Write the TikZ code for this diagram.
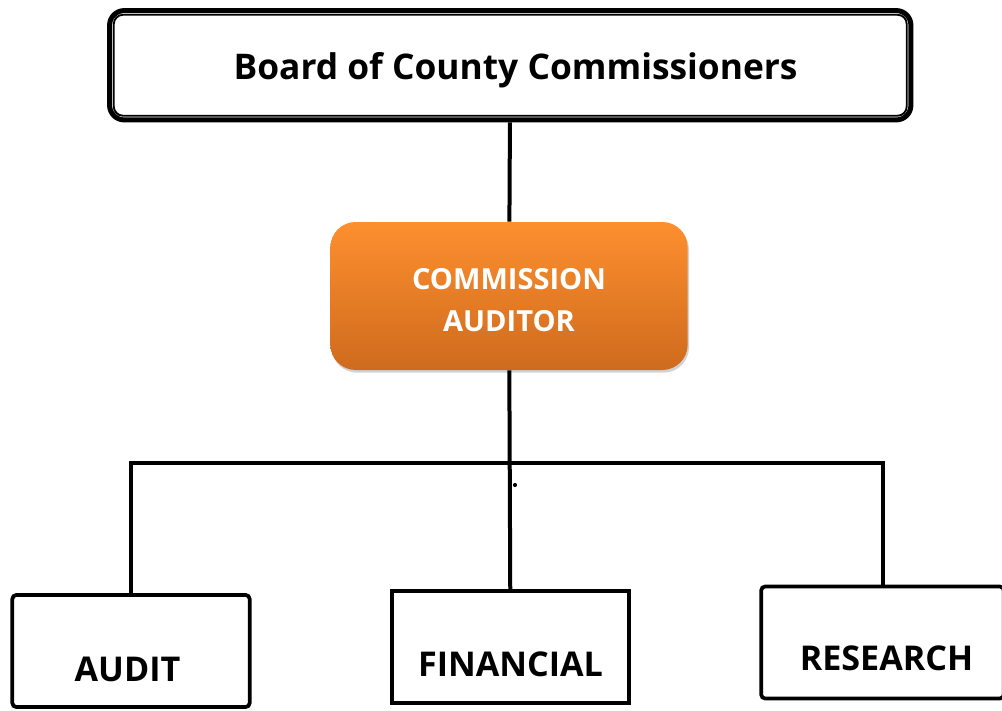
\documentclass[tikz,border=0pt]{standalone}
\usepackage{fontspec}
\setmainfont{Open Sans}
\usetikzlibrary{shadows}

\definecolor{auditTop}{HTML}{FD8F2E}
\definecolor{auditBot}{HTML}{CF6B1E}

\tikzset{board/.style={draw, line width=3.75pt, rounded corners=11pt, minimum width=601pt, minimum height=82pt, text height=22pt, text depth=0pt,
                       font=\fontsize{26.5}{30}\selectfont\bfseries},
         head/.style={rounded corners=19pt, top color=auditTop, bottom color=auditBot, minimum width=268pt, minimum height=111pt, text=white, align=center,
                      text height=53pt, text depth=0pt, drop shadow={opacity=0.35, shadow xshift=1pt, shadow yshift=-2pt},
                      font=\fontsize{21.8}{31.5}\selectfont\bfseries},
         unit/.style={draw, line width=2.8pt, minimum width=178pt, minimum height=84pt},
         unittxt/.style={inner sep=0pt, font=\fontsize{25.6}{30}\selectfont\bfseries},
         link/.style={line width=3pt}}

\begin{document}
\begin{tikzpicture}[x=0.75pt, y=-0.75pt]
    \clip (0,0) rectangle (1002,710);
    \fill[white] (0,0) rectangle (1002,710);

    \node[board] (bocc) at (510.25,65.25) {\hspace*{8pt}Board of County Commissioners};
    \draw[line width=1.4pt, rounded corners=7pt] ([shift={(5pt,5pt)}]bocc.south west) rectangle ([shift={(-5pt,-5pt)}]bocc.north east);

    \node[head] (auditor) at (509,296) {COMMISSION\\AUDITOR};

    \node[unit, rounded corners=3pt] (audit) at (131,651) {};
    \node[unit] (financial) at (510.5,647) {};
    \node[unit, rounded corners=3pt, minimum width=182pt] (research) at (882.5,642.5) {};

    \node[unittxt] (audit_t) at ([xshift=-2.6pt, yshift=-13.5pt]audit) {AUDIT};
    \node[unittxt] (financial_t) at ([yshift=-13pt]financial) {FINANCIAL};
    \node[unittxt] (research_t) at ([xshift=3pt, yshift=-12pt]research) {RESEARCH};

    \coordinate (bus) at (auditor.south |- 0,463);
    \node[circle, fill, inner sep=1.1pt] (speck) at (515,485) {};

    \draw[link] (bocc) -- (auditor);
    \draw[link] (auditor) -- (financial);
    \draw[link] (audit.north) |- (bus) -| (research.north);

\end{tikzpicture}
\end{document}
